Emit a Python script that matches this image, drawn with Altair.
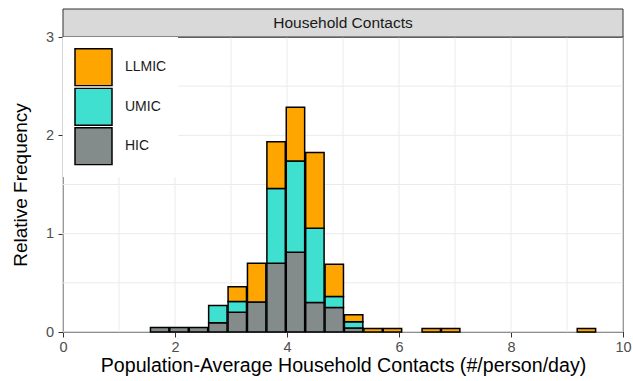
import altair as alt
import pandas as pd

# Histogram bins (left edges, #/person/day) and bin width
bin_left = [1.544, 1.890, 2.237, 2.583, 2.930, 3.276, 3.623, 3.969,
            4.316, 4.662, 5.008, 5.355, 5.701, 6.394, 6.741, 9.165]
bin_width = 0.3464

# Stacked relative-frequency contributions per income group
hic = [0.045, 0.045, 0.045, 0.095, 0.200, 0.305, 0.700, 0.810,
       0.300, 0.250, 0.040, 0.0, 0.0, 0.0, 0.0, 0.0]
umic = [0.0, 0.0, 0.0, 0.175, 0.110, 0.0, 0.760, 0.930,
        0.755, 0.110, 0.065, 0.0, 0.0, 0.0, 0.0, 0.0]
llmic = [0.0, 0.0, 0.0, 0.0, 0.150, 0.395, 0.475, 0.545,
         0.770, 0.330, 0.070, 0.036, 0.036, 0.036, 0.036, 0.036]

groups = ["LLMIC", "UMIC", "HIC"]
group_colors = ["#FFA500", "#40E0D0", "#838B8B"]
stack_rank = {"HIC": 0, "UMIC": 1, "LLMIC": 2}

x_ticks = [0, 2, 4, 6, 8, 10]
y_ticks = [0, 1, 2, 3]
x_grid = list(range(0, 11))
y_grid = [0, 0.5, 1, 1.5, 2, 2.5, 3]
panel_label = "Household Contacts"

rows = []
for name, vals in (("HIC", hic), ("UMIC", umic), ("LLMIC", llmic)):
    for left, v in zip(bin_left, vals):
        if v > 0:
            rows.append({"x0": left, "x1": left + bin_width, "freq": v,
                         "group": name, "rank": stack_rank[name]})
bars_df = pd.DataFrame(rows)

W, H = 560, 295
xscale = alt.Scale(domain=[0, 10], nice=False, zero=False)
yscale = alt.Scale(domain=[0, 3], nice=False)

x_axis = alt.Axis(values=x_ticks, title="Population-Average Household Contacts (#/person/day)",
                  grid=False, domain=False, tickColor="#333333", tickSize=5,
                  labelColor="#4D4D4D", labelFontSize=14.5, labelPadding=3,
                  titleFontSize=19.6, titleFontWeight="normal", titleColor="black",
                  titlePadding=3, labelFlush=False)
y_axis = alt.Axis(values=y_ticks, title="Relative Frequency", grid=False,
                  domain=False, tickColor="#333333", tickSize=5,
                  labelColor="#4D4D4D", labelFontSize=14.5, labelPadding=4.5,
                  titleFontSize=19, titleFontWeight="normal", titleColor="black",
                  titlePadding=15)

grid_x = alt.Chart(pd.DataFrame({"g": x_grid})).mark_rule(
    color="#EBEBEB", strokeWidth=1
).encode(x=alt.X("g:Q", scale=xscale, axis=x_axis))

grid_y = alt.Chart(pd.DataFrame({"g": y_grid})).mark_rule(
    color="#EBEBEB", strokeWidth=1
).encode(y=alt.Y("g:Q", scale=yscale, axis=y_axis))

bars = alt.Chart(bars_df).mark_bar(
    stroke="black", strokeWidth=1.5
).encode(
    x=alt.X("x0:Q", bin="binned", scale=xscale, axis=x_axis),
    x2="x1:Q",
    y=alt.Y("freq:Q", stack="zero", scale=yscale, axis=y_axis),
    color=alt.Color("group:N", scale=alt.Scale(domain=groups, range=group_colors),
                    legend=alt.Legend(title=None, orient="top-left", offset=0, padding=11,
                                      fillColor="white", symbolType="square",
                                      symbolSize=1369, symbolStrokeColor="black",
                                      symbolStrokeWidth=1.5, symbolOpacity=1,
                                      labelFontSize=14, labelColor="#1A1A1A",
                                      labelOffset=12, clipHeight=38.5, rowPadding=0.5)),
    order=alt.Order("rank:Q"),
)

strip_df = pd.DataFrame({"label": [panel_label]})
strip_box = alt.Chart(strip_df).mark_rect(
    fill="#D9D9D9", stroke="#333333", strokeWidth=1
).encode(x=alt.value(0), x2=alt.value(W), y=alt.value(-28), y2=alt.value(0))
strip_text = alt.Chart(strip_df).mark_text(
    fontSize=15.5, color="#1A1A1A", baseline="middle", align="center"
).encode(x=alt.value(W / 2), y=alt.value(-14), text="label:N")

chart = alt.layer(grid_x, grid_y, bars, strip_box, strip_text).properties(
    width=W, height=H,
    autosize=alt.AutoSizeParams(type="none"),
    padding={"left": 63, "top": 37, "right": 10, "bottom": 49},
).configure(
    font="Liberation Sans",
    background="white",
).configure_view(
    stroke="#333333", strokeWidth=1.2
)

chart.save("out.html", embed_options={"renderer": "svg", "actions": False})
